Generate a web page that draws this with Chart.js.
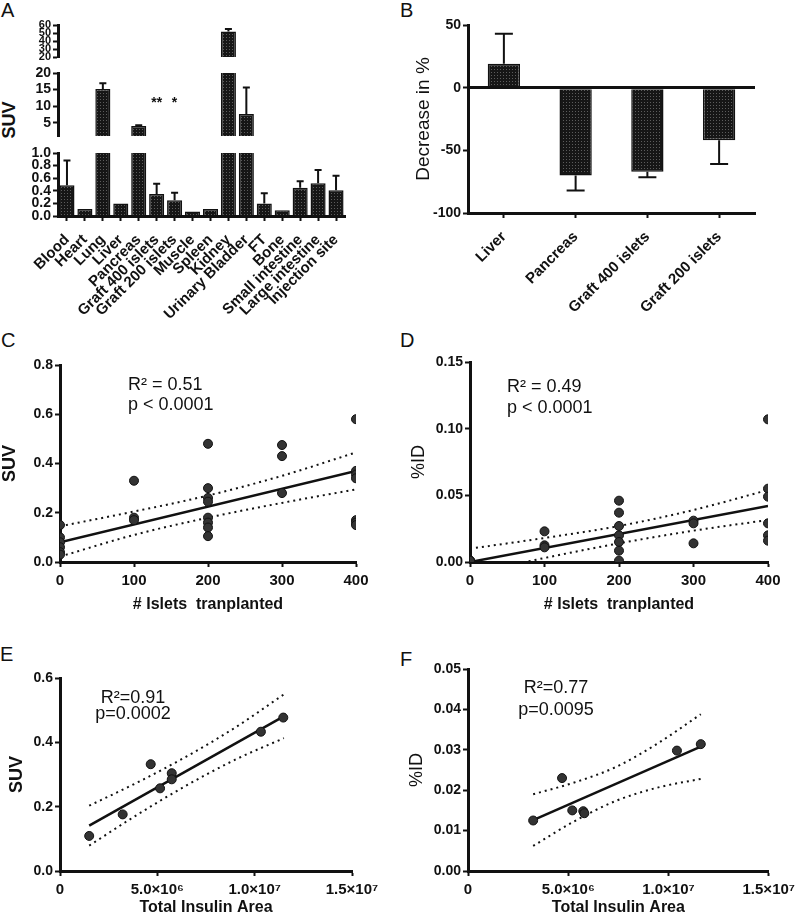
<!DOCTYPE html>
<html>
<head>
<meta charset="utf-8">
<script src="https://cdn.jsdelivr.net/npm/chart.js@4.4.1/dist/chart.umd.min.js"></script>
<style>
  body { margin: 0; background: #fff; width: 800px; height: 916px; position: relative; overflow: hidden;
         font-family: "Liberation Sans", Arial, Helvetica, sans-serif; color: #111; }
  .p { position: absolute; }
  .lt { position: absolute; font-size: 20px; line-height: 1; }
  .vt { position: absolute; transform: translate(-50%, -50%) rotate(-90deg); white-space: nowrap;
        font-size: 18px; font-weight: bold; line-height: 1; }
</style>
</head>
<body>
<div class="lt" style="left:1px;top:0">A</div>
<div class="lt" style="left:400px;top:0">B</div>
<div class="lt" style="left:1px;top:330px">C</div>
<div class="lt" style="left:400px;top:330px">D</div>
<div class="lt" style="left:0;top:644px">E</div>
<div class="lt" style="left:400px;top:649px">F</div>
<div class="vt" style="left:9px;top:120px">SUV</div>

<script>
// ---- A: biodistribution (y axis broken in three parts)
const organs = ['Blood', 'Heart', 'Lung', 'Liver', 'Pancreas', 'Graft 400 islets', 'Graft 200 islets',
  'Muscle', 'Spleen', 'Kidney', 'Urinary Bladder', 'FT', 'Bone', 'Small intestine', 'Large intestine', 'Injection site'];
const suv = [0.49, 0.11, 15.2, 0.2, 4.0, 0.35, 0.25, 0.07, 0.11, 52, 7.6, 0.2, 0.09, 0.45, 0.52, 0.41];
const suvErr = [0.39, 0, 1.7, 0, 0.25, 0.16, 0.12, 0, 0, 3, 8, 0.16, 0, 0.1, 0.21, 0.23];
const suvStars = ['', '', '', '', '', '**', '*', '', '', '', '', '', '', '', '', ''];
const aTopTicks = [20, 30, 40, 50, 60];
const aMidTicks = [5, 10, 15, 20];
const aLowTicks = [0, 0.2, 0.4, 0.6, 0.8, 1.0];

// ---- B: decrease in %
const bTissues = ['Liver', 'Pancreas', 'Graft 400 islets', 'Graft 200 islets'];
const bDecrease = [19, -70, -67, -42];
const bErr = [24, 12, 4.5, 19];
const bTicks = [-100, -50, 0, 50];

// ---- C: SUV vs islets
const cIslets = [0, 0, 0, 0, 0, 0, 100, 100, 100, 200, 200, 200, 200, 200, 200, 200, 200, 300, 300, 300, 400, 400, 400, 400, 400, 400, 400];
const cSuv = [0.15, 0.10, 0.08, 0.06, 0.04, 0.03, 0.33, 0.18, 0.17, 0.48, 0.30, 0.26, 0.245, 0.18, 0.16, 0.14, 0.105, 0.475, 0.43, 0.28, 0.58, 0.37, 0.355, 0.34, 0.17, 0.16, 0.15];
const cFitX = [0, 400], cFit = [0.08, 0.37];
const cBandX = [0, 100, 200, 300, 400];
const cUpper = [0.145, 0.205, 0.27, 0.35, 0.445];
const cLower = [0.022, 0.11, 0.18, 0.24, 0.295];
const cXTicks = [0, 100, 200, 300, 400];
const cYTicks = [0, 0.2, 0.4, 0.6, 0.8];

// ---- D: %ID vs islets
const dIslets = [0, 0, 0, 100, 100, 100, 200, 200, 200, 200, 200, 200, 200, 300, 300, 300, 400, 400, 400, 400, 400, 400];
const dId = [0.001, 0.001, 0.001, 0.023, 0.0125, 0.011, 0.046, 0.037, 0.027, 0.02, 0.015, 0.0085, 0.001, 0.031, 0.029, 0.014, 0.107, 0.055, 0.049, 0.029, 0.02, 0.016];
const dFitX = [0, 400], dFit = [0.0, 0.042];
const dBandX = [0, 100, 200, 300, 400];
const dUpper = [0.010, 0.018, 0.027, 0.039, 0.054];
const dLower = [-0.009, 0.003, 0.014, 0.0235, 0.0315];
const dYTicks = [0, 0.05, 0.10, 0.15];

// ---- E: SUV vs insulin area
const eArea = [1.5e6, 3.22e6, 4.66e6, 5.14e6, 5.74e6, 5.74e6, 1.032e7, 1.147e7];
const eSuv = [0.109, 0.176, 0.332, 0.257, 0.304, 0.285, 0.433, 0.477];
const eFitX = [1.5e6, 1.147e7], eFit = [0.141, 0.48];
const eBandX = [1.5e6, 4e6, 6.5e6, 9e6, 1.15e7];
const eUpper = [0.203, 0.276, 0.356, 0.446, 0.549];
const eLower = [0.079, 0.176, 0.266, 0.346, 0.413];
const eYTicks = [0, 0.2, 0.4, 0.6];

// ---- F: %ID vs insulin area
const fArea = [3.25e6, 4.69e6, 5.2e6, 5.75e6, 5.8e6, 1.042e7, 1.161e7];
const fId = [0.0125, 0.023, 0.015, 0.0148, 0.0143, 0.0298, 0.0314];
const fFitX = [3.25e6, 1.161e7], fFit = [0.0126, 0.0308];
const fBandX = [3.25e6, 5.3e6, 7.4e6, 9.5e6, 1.161e7];
const fUpper = [0.019, 0.0219, 0.0258, 0.0317, 0.0388];
const fLower = [0.0062, 0.0123, 0.0174, 0.0207, 0.0228];
const fYTicks = [0, 0.01, 0.02, 0.03, 0.04, 0.05];
const areaTicks = [0, 5e6, 1e7, 1.5e7];

const INK = '#111';
Chart.defaults.font.family = '"Liberation Sans", Arial, Helvetica, sans-serif';
Chart.defaults.color = INK;

// dark dotted fill like the original bars
function texture() {
  const c = document.createElement('canvas');
  c.width = 3; c.height = 3;
  const g = c.getContext('2d');
  g.fillStyle = '#161616'; g.fillRect(0, 0, 3, 3);
  g.fillStyle = '#5c5c5c'; g.fillRect(1, 1, 1, 1);
  return g.createPattern(c, 'repeat');
}
const dots = texture();

// error bars (one-sided, away from zero)
const errbars = {
  id: 'errbars',
  afterDatasetsDraw(chart) {
    const ds = chart.data.datasets[0];
    if (!ds.errors) return;
    const ctx = chart.ctx, a = chart.chartArea, y = chart.scales.y;
    const meta = chart.getDatasetMeta(0);
    ctx.save();
    ctx.beginPath();
    ctx.rect(a.left, a.top - 1, a.right - a.left, a.bottom - a.top + 1);
    ctx.clip();
    ctx.strokeStyle = INK;
    ctx.lineWidth = 2;
    meta.data.forEach((bar, i) => {
      const v = ds.data[i], e = ds.errors[i];
      if (!e) return;
      const end = v >= 0 ? v + e : v - e;
      if (v >= 0 && end <= y.min) return;   // whole whisker lies below this piece
      const y0 = y.getPixelForValue(v), y1 = y.getPixelForValue(end);
      ctx.beginPath();
      ctx.moveTo(bar.x, y0); ctx.lineTo(bar.x, y1);
      ctx.moveTo(bar.x - ds.cap, y1); ctx.lineTo(bar.x + ds.cap, y1);
      ctx.stroke();
    });
    ctx.restore();
  }
};

// significance stars above bars
const stars = {
  id: 'stars',
  afterDatasetsDraw(chart) {
    const ds = chart.data.datasets[0];
    if (!ds.stars) return;
    const ctx = chart.ctx, meta = chart.getDatasetMeta(0);
    ctx.save();
    ctx.font = 'bold 14px "Liberation Sans", Arial, sans-serif';
    ctx.fillStyle = INK;
    ctx.textAlign = 'center';
    ctx.textBaseline = 'middle';
    meta.data.forEach((bar, i) => {
      if (ds.stars[i]) ctx.fillText(ds.stars[i], bar.x, chart.scales.y.getPixelForValue(ds.starAt));
    });
    ctx.restore();
  }
};

// R² / p text
const notes = {
  id: 'notes',
  afterDraw(chart) {
    const n = chart.config.options.note;
    if (!n) return;
    const ctx = chart.ctx;
    ctx.save();
    ctx.font = '18px "Liberation Sans", Arial, sans-serif';
    ctx.fillStyle = INK;
    ctx.textAlign = n.align;
    n.lines.forEach((t, i) => ctx.fillText(t, n.x, n.y[i]));
    ctx.restore();
  }
};
Chart.register(errbars, stars, notes);

function mount(r) {
  const d = document.createElement('div');
  d.className = 'p';
  Object.assign(d.style, {left: r[0] + 'px', top: r[1] + 'px', width: r[2] + 'px', height: r[3] + 'px'});
  const c = document.createElement('canvas');
  d.appendChild(c);
  document.body.appendChild(d);
  return c;
}

// rect = canvas box on the page, area = wanted plot area on the page
function fit(r, area) {
  return {
    padding: {left: 0, top: area[1] - r[1], right: r[0] + r[2] - area[2], bottom: 0},
    xH: r[1] + r[3] - area[3],
    yW: area[0] - r[0]
  };
}

function tickGrid(extra) {
  return Object.assign({drawOnChartArea: false, tickLength: 5, tickWidth: 2, tickColor: INK, color: INK}, extra || {});
}

function yAxis(f, min, max, ticks, fmt, size, title, grid) {
  return {
    type: 'linear', min, max,
    afterBuildTicks: s => { s.ticks = ticks.map(v => ({value: v})); },
    afterFit: s => { s.width = f.yW; },
    border: {color: INK, width: 3},
    grid: tickGrid(grid),
    ticks: {autoSkip: false, padding: 2, color: INK, font: {size, weight: 'bold'}, callback: v => fmt(v)},
    title: title || {display: false}
  };
}

function catAxis(f, show, size) {
  return {
    type: 'category', offset: true,
    afterFit: s => { s.height = f.xH; },
    border: {display: show, color: INK, width: 3},
    grid: tickGrid({display: show, offset: false}),
    ticks: {display: show, autoSkip: false, minRotation: 45, maxRotation: 45, padding: 10, color: INK,
            font: {size, weight: 'bold'}}
  };
}

function base(f) {
  return {
    devicePixelRatio: 1, responsive: true, maintainAspectRatio: false, animation: false,
    layout: {padding: f.padding},
    plugins: {legend: {display: false}, tooltip: {enabled: false}}
  };
}

// ---- panel A, three stacked pieces
function organPiece(r, area, min, max, ticks, fmt, size, bottom, withStars) {
  const f = fit(r, area);
  const inRange = c => c.raw > min;
  const ds = {data: suv, errors: suvErr, cap: 3.5,
              backgroundColor: c => (inRange(c) ? dots : 'rgba(0,0,0,0)'),
              borderColor: c => (inRange(c) ? INK : 'rgba(0,0,0,0)'),
              borderWidth: c => (inRange(c) ? 1.5 : 0),
              barPercentage: 0.84, categoryPercentage: 1, clip: 0};
  if (withStars) { ds.stars = suvStars; ds.starAt = 11; }
  const o = base(f);
  o.scales = {x: catAxis(f, bottom, 15), y: yAxis(f, min, max, ticks, fmt, size)};
  return new Chart(mount(r), {type: 'bar', data: {labels: organs, datasets: [ds]}, options: o});
}
organPiece([0, 12, 380, 57], [58, 25, 345, 57], 20, 60, aTopTicks, v => String(v), 11, false, false);
organPiece([0, 62, 380, 90], [58, 73, 345, 136], 1, 20, aMidTicks, v => String(v), 14, false, true);
organPiece([0, 141, 380, 180], [58, 153, 345, 216], 0, 1, aLowTicks, v => v.toFixed(1), 14, true, false);

// ---- panel B
(function () {
  const r = [400, 8, 400, 304], f = fit(r, [468, 25, 755, 213]);
  const o = base(f);
  o.scales = {
    x: catAxis(f, true, 15),
    y: yAxis(f, -100, 50, bTicks, v => String(v), 14,
      {display: true, text: 'Decrease in %', color: INK, font: {size: 19, lineHeight: 1}, padding: {top: 14, bottom: 0}},
      {drawOnChartArea: true, lineWidth: 3, color: c => (c.tick && c.tick.value === 0 ? INK : 'rgba(0,0,0,0)')})
  };
  new Chart(mount(r), {
    type: 'bar',
    data: {labels: bTissues, datasets: [{data: bDecrease, errors: bErr, cap: 9, backgroundColor: dots,
      borderColor: INK, borderWidth: 1.5, barPercentage: 0.45, categoryPercentage: 1, clip: 0}]},
    options: o
  });
})();

// ---- scatter panels C–F
const toPts = (xs, ys) => xs.map((x, i) => ({x, y: ys[i]}));
const SUP = '⁰¹²³⁴⁵⁶⁷⁸⁹';
function sci(v) {
  if (v === 0) return '0';
  const e = Math.floor(Math.log10(v) + 1e-9);
  return (v / Math.pow(10, e)).toFixed(1) + '×10' + String(e).split('').map(d => SUP[d]).join('');
}

function scatterPanel(p) {
  const f = fit(p.rect, p.area);
  const o = base(f);
  o.note = p.note;
  o.scales = {
    x: {
      type: 'linear', min: p.xTicks[0], max: p.xTicks[p.xTicks.length - 1],
      afterBuildTicks: s => { s.ticks = p.xTicks.map(v => ({value: v})); },
      afterFit: s => { s.height = f.xH; },
      border: {color: INK, width: 3},
      grid: tickGrid(),
      ticks: {autoSkip: false, padding: 5, color: INK, font: {size: 15, weight: 'bold'}, callback: v => p.xFmt(v)},
      title: {display: true, text: p.xTitle, color: INK, font: {size: 16, weight: 'bold', lineHeight: 1},
              padding: {top: 0, bottom: p.xPad}}
    },
    y: yAxis(f, p.yTicks[0], p.yTicks[p.yTicks.length - 1], p.yTicks, p.yFmt, 14,
      {display: true, text: p.yTitle, color: INK, font: {size: 18, weight: p.yBold ? 'bold' : 'normal', lineHeight: 1},
       padding: {top: p.yPad, bottom: 0}})
  };
  const band = pts => ({data: pts, showLine: true, borderColor: INK, borderWidth: 2, borderDash: [2, 4],
                        pointRadius: 0, cubicInterpolationMode: 'monotone', clip: 0});
  new Chart(mount(p.rect), {
    type: 'scatter',
    data: {datasets: [
      {data: toPts(p.xs, p.ys), pointRadius: 4.5, pointBackgroundColor: '#333', pointBorderColor: INK, pointBorderWidth: 1},
      {data: toPts(p.fitX, p.fit), showLine: true, borderColor: INK, borderWidth: 2.5, pointRadius: 0},
      band(toPts(p.bandX, p.upper)),
      band(toPts(p.bandX, p.lower))
    ]},
    options: o
  });
}

scatterPanel({
  rect: [0, 345, 400, 274], area: [60, 365, 356, 562],
  xs: cIslets, ys: cSuv, fitX: cFitX, fit: cFit, bandX: cBandX, upper: cUpper, lower: cLower,
  xTicks: cXTicks, xFmt: v => String(v), xTitle: '# Islets  tranplanted', xPad: 6,
  yTicks: cYTicks, yFmt: v => v.toFixed(1), yTitle: 'SUV', yBold: true, yPad: 1,
  note: {lines: ['R² = 0.51', 'p < 0.0001'], x: 128, y: [45, 65], align: 'left'}
});
scatterPanel({
  rect: [400, 345, 400, 274], area: [470, 362, 768, 562],
  xs: dIslets, ys: dId, fitX: dFitX, fit: dFit, bandX: dBandX, upper: dUpper, lower: dLower,
  xTicks: cXTicks, xFmt: v => String(v), xTitle: '# Islets  tranplanted', xPad: 6,
  yTicks: dYTicks, yFmt: v => v.toFixed(2), yTitle: '%ID', yBold: false, yPad: 10,
  note: {lines: ['R² = 0.49', 'p < 0.0001'], x: 107, y: [47, 68], align: 'left'}
});
scatterPanel({
  rect: [0, 655, 400, 261], area: [60, 678, 352, 871],
  xs: eArea, ys: eSuv, fitX: eFitX, fit: eFit, bandX: eBandX, upper: eUpper, lower: eLower,
  xTicks: areaTicks, xFmt: sci, xTitle: 'Total Insulin Area', xPad: 0,
  yTicks: eYTicks, yFmt: v => v.toFixed(1), yTitle: 'SUV', yBold: true, yPad: 8,
  note: {lines: ['R²=0.91', 'p=0.0002'], x: 133, y: [48, 64], align: 'center'}
});
scatterPanel({
  rect: [400, 655, 400, 261], area: [468, 669, 771, 871],
  xs: fArea, ys: fId, fitX: fFitX, fit: fFit, bandX: fBandX, upper: fUpper, lower: fLower,
  xTicks: areaTicks, xFmt: sci, xTitle: 'Total Insulin Area', xPad: 0,
  yTicks: fYTicks, yFmt: v => v.toFixed(2), yTitle: '%ID', yBold: false, yPad: 8,
  note: {lines: ['R²=0.77', 'p=0.0095'], x: 156, y: [38, 60], align: 'center'}
});
</script>
</body>
</html>
